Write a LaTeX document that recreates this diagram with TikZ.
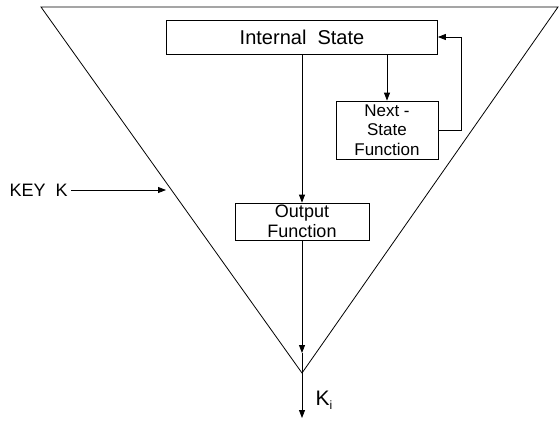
\documentclass[tikz,border=0pt]{standalone}
\usepackage{fontspec}
\setmainfont{Liberation Sans}
\usepackage{tikz}
\usetikzlibrary{arrows.meta, positioning}
\tikzstyle{arrow} = [-{Triangle[length=8pt, width=6pt]}, line width=0.8pt]
\tikzset{
    block/.style={draw, line width=0.8pt, align=center, inner sep=0pt,
        font=\fontsize{18}{20}\selectfont},
    keylabel/.style={font=\fontsize{18}{20}\selectfont},
}

\begin{document}
\begin{tikzpicture}[x=1pt, y=-1pt, line width=0.8pt]
    \useasboundingbox (0,0) rectangle (559,421);

    % key triangle
    \coordinate (tl) at (41,7);
    \coordinate (tr) at (558,7);
    \coordinate (apex) at (302,373);
    \draw (tl) -- (tr) -- (apex) -- cycle;

    % blocks
    \node[block, minimum width=271, minimum height=34,
        font=\fontsize{20}{22}\selectfont] (state) at (302,37) {Internal\ \ State};
    \node[block, minimum width=102, minimum height=58,
        font=\fontsize{17}{19.5}\selectfont] (next) at (387,130) {Next -\\State\\Function};
    \node[block, minimum width=134, minimum height=37] (output) at (302,221.5) {Output\\Function};

    % state update and feedback
    \draw[arrow] (state.south -| next.north) -- (next.north);
    \draw[arrow] (next.east) -- ++(23,0) |- (state.east);
    \draw[arrow] (state.south) -- (output.north);

    % output to keystream
    \coordinate (mid) at (302,353);
    \coordinate (out) at (302,418);
    \draw[arrow] (output.south) -- (mid);
    \draw (mid) -- (apex);
    \draw[arrow] (apex) -- (out);
    \node[keylabel, anchor=west, font=\fontsize{21}{22}\selectfont] (ki) at (312,400)
        {K\raisebox{-0.35ex}{\fontsize{12}{12}\selectfont i}};

    % key input
    \node[keylabel, anchor=west] (key) at (6,190) {KEY\ \ K};
    \coordinate (keytip) at (166,190);
    \draw[arrow] (key.east) -- (keytip);
\end{tikzpicture}
\end{document}
